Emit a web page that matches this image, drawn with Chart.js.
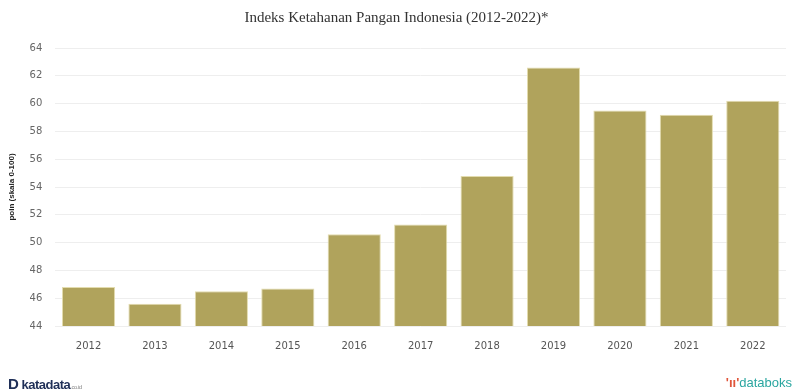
<!DOCTYPE html>
<html>
<head>
<meta charset="utf-8">
<script src="https://cdn.jsdelivr.net/npm/chart.js@4"></script>
<style>
  html, body { margin: 0; padding: 0; background: #fff; }
  #wrap { position: relative; width: 796px; height: 392px; }
  .foot { position: absolute; font-family: "Liberation Sans", Arial, sans-serif; }
  #kata { left: 8px; top: 375px; font-size: 13px; color: #1f2f57; font-weight: bold; letter-spacing: -0.5px; }
  #kata small { font-size: 6px; color: #888; font-weight: normal; }
  #dbk { right: 4px; top: 375px; font-size: 13px; color: #2aa6a0; }
  #dbk span { color: #e0553a; font-weight: bold; }
</style>
</head>
<body>
<div id="wrap">
  <canvas id="chart" width="796" height="392"></canvas>
  <div class="foot" id="kata"><span style="font-size:15px">D</span> katadata<small>.co.id</small></div>
  <div class="foot" id="dbk"><span>'ıı'</span>databoks</div>
</div>
<script>
const years = ["2012", "2013", "2014", "2015", "2016", "2017", "2018", "2019", "2020", "2021", "2022"];
const indexValues = [46.8, 45.6, 46.5, 46.7, 50.6, 51.3, 54.8, 62.6, 59.5, 59.2, 60.2];
const yTicks = [44, 46, 48, 50, 52, 54, 56, 58, 60, 62, 64];

const ctx = document.getElementById("chart").getContext("2d");
new Chart(ctx, {
  type: "bar",
  data: {
    labels: years,
    datasets: [{
      label: "Indeks",
      data: indexValues,
      backgroundColor: "#b0a35c",
      borderColor: "#e3dcae",
      borderWidth: 1,
      barPercentage: 0.8,
      categoryPercentage: 1.0
    }]
  },
  options: {
    responsive: false,
    animation: false,
    layout: { padding: { left: 7, right: 10, top: 3, bottom: 34 } },
    plugins: {
      legend: { display: false },
      tooltip: { enabled: false },
      title: {
        display: true,
        text: "Indeks Ketahanan Pangan Indonesia (2012-2022)*",
        color: "#333",
        font: { family: "Liberation Serif", size: 15, weight: "normal" },
        padding: { top: 6, bottom: 21 }
      }
    },
    scales: {
      x: {
        grid: { display: false },
        border: { display: false },
        ticks: { color: "#555", font: { family: "DejaVu Sans", size: 10 }, padding: 6 }
      },
      y: {
        min: 44,
        max: 64,
        afterBuildTicks: (axis) => { axis.ticks = yTicks.map(v => ({ value: v })); },
        grid: { color: "#eeeeee", drawTicks: false },
        border: { display: false },
        ticks: { color: "#666", font: { family: "DejaVu Sans", size: 10 }, padding: 13 },
        title: {
          display: true,
          text: "poin (skala 0-100)",
          color: "#222",
          font: { family: "Liberation Sans", size: 8, weight: "bold" },
          padding: { top: 0, bottom: 0 }
        }
      }
    }
  }
});
</script>
</body>
</html>
